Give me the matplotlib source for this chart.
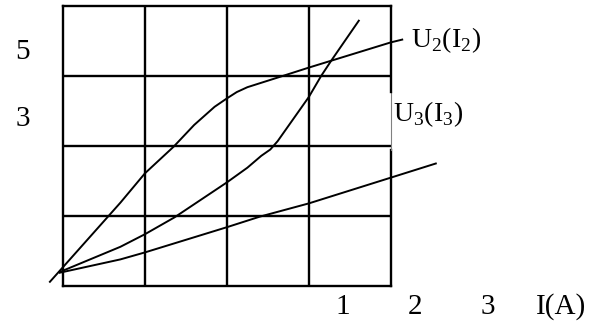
import numpy as np
import matplotlib.pyplot as plt

plt.rcParams['font.family'] = 'Liberation Serif'
plt.rcParams['mathtext.fontset'] = 'custom'
plt.rcParams['mathtext.rm'] = 'Liberation Serif'

# curves (grid units: one cell = 1)
u2_x = [-0.16, 0.0, 0.70, 1.00, 1.35, 1.60, 1.85, 2.00, 2.12, 2.25, 2.68, 3.00, 4.00, 4.14]
u2_y = [0.06, 0.27, 1.19, 1.61, 1.99, 2.30, 2.56, 2.68, 2.77, 2.84, 3.00, 3.12, 3.48, 3.52]

u3_x = [-0.04, 0.70, 1.00, 1.36, 2.00, 2.25, 2.42, 2.53, 2.62, 3.00, 3.15, 3.28, 3.61]
u3_y = [0.20, 0.56, 0.74, 0.98, 1.48, 1.69, 1.86, 1.95, 2.07, 2.70, 3.00, 3.23, 3.79]

u1_x = [-0.04, 0.70, 1.00, 2.00, 2.40, 3.00, 4.55]
u1_y = [0.19, 0.38, 0.48, 0.84, 0.99, 1.18, 1.75]

y_labels = ['5', '3']
y_label_pos = [3.34, 2.39]
x_labels = ['1', '2', '3', 'I(A)']
x_label_pos = [3.41, 4.30, 5.19, 6.08]

fig = plt.figure(figsize=(6.06, 3.26), dpi=100)
ax = fig.add_axes([0.104, 0.1227, 0.5408, 0.8589])
ax.set_xlim(0, 4)
ax.set_ylim(0, 4)

for v in [1, 2, 3]:
    ax.axvline(v, color='black', lw=1.7)
    ax.axhline(v, color='black', lw=1.7)
for s in ['left', 'bottom', 'top']:
    ax.spines[s].set_linewidth(1.7)
ax.spines['right'].set_visible(False)
# right border, with its faint gray stretch
ax.axvline(4, ymin=0, ymax=0.486, color='black', lw=1.7, clip_on=False)
ax.axvline(4, ymin=0.486, ymax=0.693, color='gray', lw=0.8, clip_on=False)
ax.axvline(4, ymin=0.693, ymax=1, color='black', lw=1.7, clip_on=False)
ax.set_xticks([])
ax.set_yticks([])

ax.plot(u2_x, u2_y, color='black', lw=1.4, clip_on=False)
ax.plot(u3_x, u3_y, color='black', lw=1.4, clip_on=False)
ax.plot(u1_x, u1_y, color='black', lw=1.4, clip_on=False)

ax.text(4.25, 3.41, r'U$_2$(I$_2$)', fontsize=20, ha='left', va='baseline')
ax.text(4.03, 2.36, r'U$_3$(I$_3$)', fontsize=20, ha='left', va='baseline')

for lab, y in zip(y_labels, y_label_pos):
    ax.text(-0.495, y, lab, fontsize=21, ha='center', va='center')
for lab, x in zip(x_labels, x_label_pos):
    ax.text(x, -0.3, lab, fontsize=21, ha='center', va='center')

fig.savefig('out.png', dpi=100)
